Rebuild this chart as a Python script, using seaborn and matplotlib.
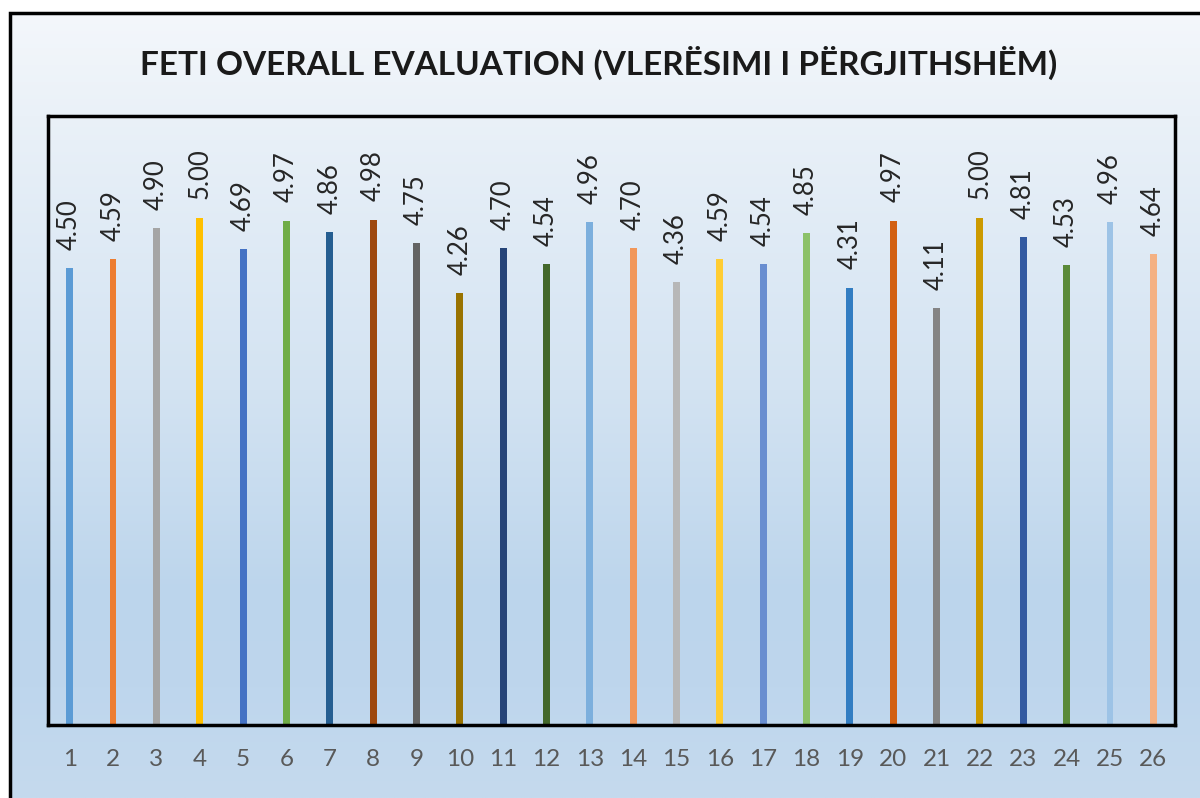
import numpy as np
import pandas as pd
import matplotlib
matplotlib.use("Agg")
import matplotlib.pyplot as plt
import matplotlib.patches as mpatches
import seaborn as sns

# ---- data ----
categories = [str(i) for i in range(1, 27)]
values = [4.50, 4.59, 4.90, 5.00, 4.69, 4.97, 4.86, 4.98, 4.75, 4.26,
          4.70, 4.54, 4.96, 4.70, 4.36, 4.59, 4.54, 4.85, 4.31, 4.97,
          4.11, 5.00, 4.81, 4.53, 4.96, 4.64]
bar_colors = ["#5B9BD5", "#ED7D31", "#A5A5A5", "#FFC000", "#4472C4", "#70AD47",
              "#255E91", "#9E480E", "#636363", "#997300", "#264478", "#43682B",
              "#7CAFDD", "#F1975A", "#B7B7B7", "#FFCD33", "#698ED0", "#8CC168",
              "#327DC2", "#D26012", "#848484", "#CC9A00", "#335AA1", "#5A8A39",
              "#9DC3E6", "#F4B183"]
title = "FETI OVERALL EVALUATION (VLERËSIMI I PËRGJITHSHËM)"

df = pd.DataFrame({"cat": categories, "val": values})

sns.set_theme(style="white")
plt.rcParams["font.family"] = ["Lato", "DejaVu Sans"]

W, H = 1200, 798
fig = plt.figure(figsize=(W / 100, H / 100), dpi=100, facecolor="white")

# background gradient inside the outer frame
fx0, fy1 = 10 / W, 1 - 13 / H
bg = fig.add_axes([fx0, 0, 1 - fx0, fy1], zorder=-10)
stops_y = np.array([0.0, 0.13, 0.48, 0.74, 0.86, 1.0])  # from top
stops_c = np.array([[0xf4, 0xf7, 0xfb], [0xea, 0xf1, 0xf8], [0xd3, 0xe3, 0xf2],
                    [0xbc, 0xd5, 0xec], [0xbe, 0xd6, 0xed], [0xc5, 0xda, 0xee]]) / 255
rows = np.linspace(0, 1, 400)
grad = np.stack([np.interp(rows, stops_y, stops_c[:, k]) for k in range(3)], axis=-1)
img = np.repeat(grad[:, None, :], 8, axis=1)
bg.imshow(img, aspect="auto", extent=[0, 1, 0, 1], origin="upper")
bg.set_axis_off()

# outer frame
fig.patches.append(mpatches.Rectangle((fx0, -0.02), 1.0, fy1 + 0.02,
                                      transform=fig.transFigure, fill=False,
                                      ec="black", lw=2.5, zorder=5))

ax = fig.add_axes([48 / W, 1 - 725 / H, (1175 - 48) / W, (725 - 116) / H])
ax.patch.set_alpha(0)
sns.barplot(data=df, x="cat", y="val", hue="cat", palette=bar_colors,
            legend=False, width=0.16, ax=ax, saturation=1, linewidth=0)
ax.set_ylim(0, 6)
ax.set_xlim(-0.5, len(categories) - 0.5)
ax.set_yticks([])
ax.set_xlabel("")
ax.set_ylabel("")
for s in ax.spines.values():
    s.set_visible(True)
    s.set_color("black")
    s.set_linewidth(2.5)
ax.tick_params(axis="x", length=0, pad=17, labelsize=17.5, labelcolor="#595959")

for cont in ax.containers:
    ax.bar_label(cont, fmt="%.2f", rotation=90, padding=13, fontsize=18.5,
                 color="#262626")

fig.text(0.499, 1 - 63 / H, title, ha="center", va="center", fontsize=24,
         fontweight="bold", color="#1a1a1a")

fig.savefig("out.png", dpi=100, facecolor="white")
